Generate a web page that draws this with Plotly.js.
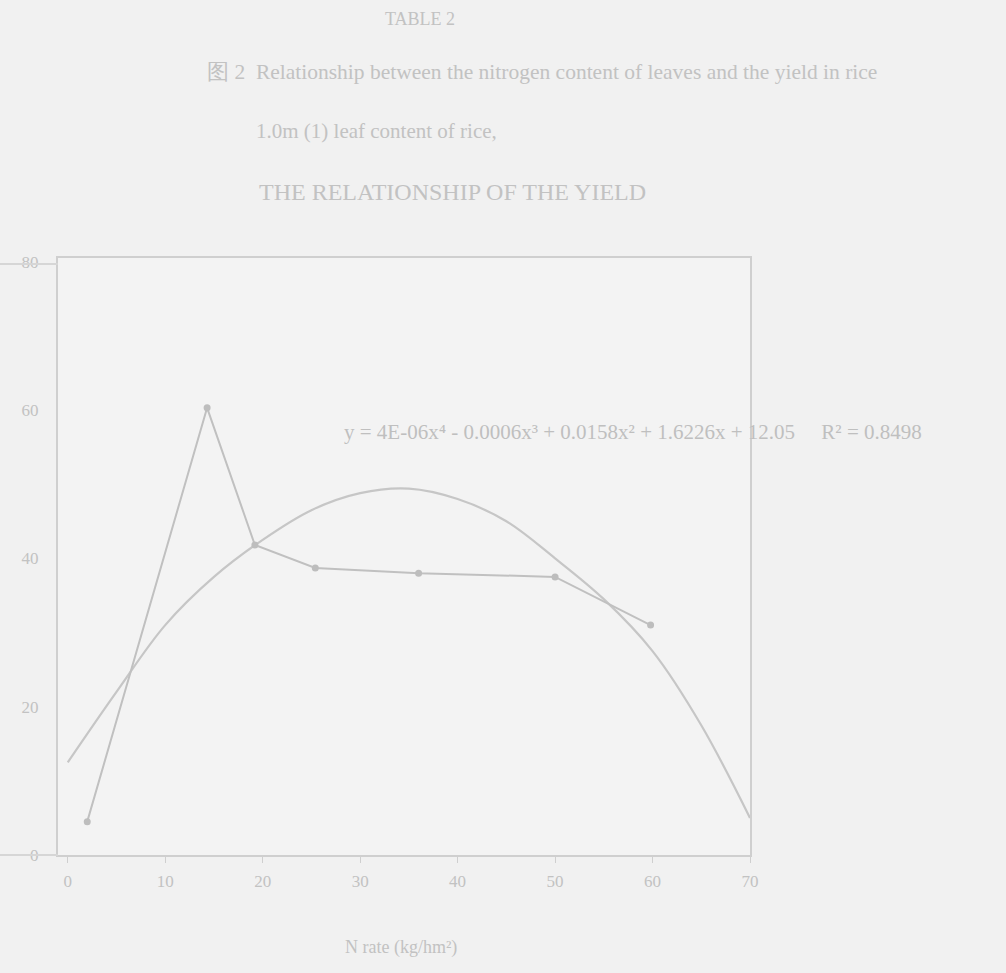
<!DOCTYPE html>
<html>
<head>
<meta charset="utf-8">
<script src="https://cdn.plot.ly/plotly-3.0.1.min.js"></script>
<style>html,body{margin:0;padding:0;background:#f1f1f1;}#chart{width:1006px;height:973px;}</style>
</head>
<body>
<div id="chart"></div>
<script>
const dataX = [2, 14.3, 19.2, 25.4, 36, 50, 59.8];
const dataY = [4.5, 60.3, 41.8, 38.7, 38, 37.5, 31];

// Trendline
const trendX = [0, 5, 10, 15, 20, 25, 30, 35, 40, 45, 50, 55, 60, 65, 70];
const trendY = [12.5, 22, 31, 37.5, 42.5, 46.5, 48.8, 49.4, 48, 45, 40, 34.5, 27.5, 17.5, 5];

// Axis ticks
const xTicks = [0, 10, 20, 30, 40, 50, 60, 70];
const xTickText = ['0', '10', '20', '30', '40', '50', '60', '70'];
const yTicks = [0, 20, 40, 60, 80];
const yTickText = ['0', '20', '40', '60', '80'];

const equationText = 'y = 4E-06x⁴ - 0.0006x³ + 0.0158x² + 1.6226x + 12.05     R² = 0.8498';
const titleLines = [
  'TABLE 2',
  '图 2  Relationship between the nitrogen content of leaves and the yield in rice',
  '1.0m (1) leaf content of rice,',
  'THE RELATIONSHIP OF THE YIELD'
];
const xAxisTitle = 'N rate (kg/hm²)';

const lineCol = '#c0c0c0';
const textCol = '#c2c2c2';
const serif = 'Liberation Serif, DejaVu Serif, serif';

const traces = [
  {
    x: trendX, y: trendY, type: 'scatter', mode: 'lines',
    line: {color: '#c6c6c6', width: 2.2, shape: 'spline', smoothing: 1},
    hoverinfo: 'skip', showlegend: false
  },
  {
    x: dataX, y: dataY, type: 'scatter', mode: 'lines+markers',
    line: {color: lineCol, width: 2},
    marker: {color: '#bdbdbd', size: 7},
    showlegend: false
  }
];

const titleYs = [1.40, 1.312, 1.212, 1.11];
const titleXs = [0.523, 0.70, 0.46, 0.57];
const titleSizes = [18, 21.5, 21, 24];
const annotations = titleLines.map((t, i) => ({
  text: t, xref: 'paper', yref: 'paper', x: titleXs[i], y: titleYs[i],
  xanchor: 'center', yanchor: 'middle', showarrow: false,
  font: {family: serif, size: titleSizes[i], color: textCol}
}));
annotations.push({
  text: equationText, xref: 'paper', yref: 'paper', x: 0.41, y: 0.709,
  xanchor: 'left', yanchor: 'middle', showarrow: false,
  font: {family: serif, size: 21, color: '#bfbfbf'}
});
annotations.push({
  text: xAxisTitle, xref: 'paper', yref: 'paper', x: 0.495, y: -0.155,
  xanchor: 'center', yanchor: 'middle', showarrow: false,
  font: {family: serif, size: 18, color: textCol}
});

const shapes = [
  {type: 'line', xref: 'paper', yref: 'paper', x0: -0.084, x1: 0, y0: 0, y1: 0,
   line: {color: '#d6d6d6', width: 2}},
  {type: 'line', xref: 'paper', yref: 'paper', x0: -0.084, x1: 0, y0: 0.99, y1: 0.99,
   line: {color: '#d6d6d6', width: 2}}
];

const layout = {
  width: 1006, height: 973,
  paper_bgcolor: '#f1f1f1', plot_bgcolor: '#f3f3f3',
  margin: {l: 58, r: 256, t: 258, b: 118},
  xaxis: {
    range: [-1, 70], tickvals: xTicks, ticktext: xTickText,
    showgrid: false, zeroline: false, showline: true, mirror: true,
    linecolor: '#cfcfcf', linewidth: 2, ticks: 'outside', ticklen: 6,
    tickcolor: '#cfcfcf', ticklabelstandoff: 4,
    tickfont: {family: serif, size: 17, color: textCol}
  },
  yaxis: {
    range: [0, 80.5], tickvals: yTicks, ticktext: yTickText,
    showgrid: false, zeroline: false, showline: true, mirror: true,
    linecolor: '#cfcfcf', linewidth: 2, ticks: '', ticklabelstandoff: 14,
    tickfont: {family: serif, size: 17, color: textCol}
  },
  shapes: shapes,
  annotations: annotations
};

Plotly.newPlot('chart', traces, layout, {staticPlot: true});
</script>
</body>
</html>
